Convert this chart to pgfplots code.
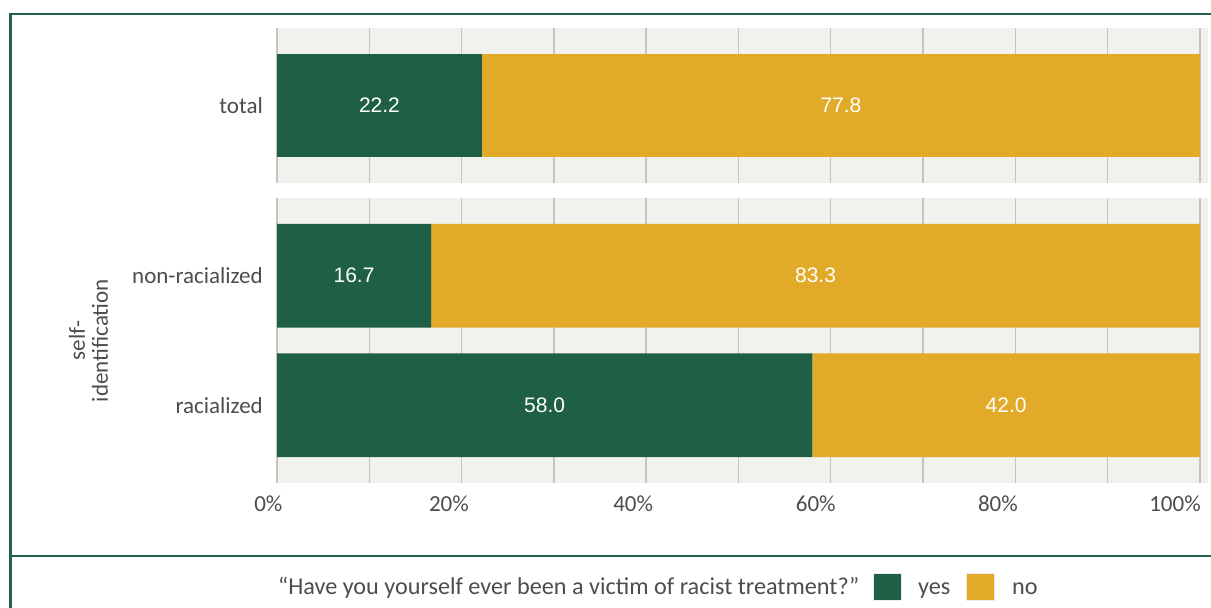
\documentclass[border=0pt]{standalone}
\usepackage{pgfplots}
\usepackage{pgfplotstable}
\pgfplotsset{compat=1.18}
\usepackage{fontspec}
\setmainfont{Carlito}
\newfontfamily\barfont{Liberation Sans}
\definecolor{cgreen}{HTML}{1F5F46}
\definecolor{cframe}{HTML}{23614A}
\definecolor{cyellow}{HTML}{E1AA29}
\definecolor{cpanel}{HTML}{F1F2EE}
\definecolor{cgrid}{HTML}{C4C4C4}
\definecolor{ctext}{HTML}{4D4D4D}

\pgfplotstableread{
pos yes no
0 22.2 77.8
}\tabtotal
\pgfplotstableread{
pos yes no
0 58.0 42.0
1 16.7 83.3
}\tabself

\pgfplotsset{
  panel/.style={
    scale only axis, width=931pt,
    xmin=0, xmax=100.87,
    axis line style={draw=none},
    major tick length=0pt,
    xtick={0,10,...,100},
    xmajorgrids, major grid style={draw=cgrid, line width=1.4pt},
    axis background/.style={fill=cpanel},
    ticklabel style={font=\fontsize{23}{27}\selectfont, text=ctext},
    yticklabel style={anchor=east, inner sep=0pt, xshift=-14pt, text height=16pt, text depth=0pt},
    xticklabel style={anchor=north, inner sep=0pt, yshift=-12.5pt},
    /pgf/number format/assume math mode=true,
  },
  barsax/.style={panel, xbar stacked, bar width=0.8},
  labax/.style={
    scale only axis, width=931pt, xmin=0, xmax=100.87, hide axis,
    point meta=explicit,
    nodes near coords={\barfont\fontsize{21}{25}\selectfont\pgfmathprintnumber[fixed,fixed zerofill,precision=1]{\pgfplotspointmeta}},
    every node near coord/.style={anchor=center, text=white},
    /pgf/number format/assume math mode=true,
  },
}

\begin{document}
\begin{tikzpicture}
\path[use as bounding box] (0pt,0pt) rectangle (1211pt,-608pt);
% frame
\draw[cframe, line width=2.2pt] (10.5pt,-608pt) -- (10.5pt,-14.3pt) -- (1211pt,-14.3pt);
\draw[cframe, line width=2pt] (10.5pt,-555.8pt) -- (1211pt,-555.8pt);

% panel total
\begin{axis}[barsax, at={(277pt,-28pt)}, anchor=north west, height=155pt,
  ymin=-0.6, ymax=0.6, ytick={0}, yticklabels={total}, xticklabels={}]
\addplot[fill=cgreen, draw=none] table[x=yes, y=pos] {\tabtotal};
\addplot[fill=cyellow, draw=none] table[x=no, y=pos] {\tabtotal};
\end{axis}
\begin{axis}[labax, at={(277pt,-28pt)}, anchor=north west, height=155pt, ymin=-0.6, ymax=0.6]
\addplot[draw=none, mark=none] table[x expr=\thisrow{yes}/2, y=pos, meta=yes] {\tabtotal};
\addplot[draw=none, mark=none] table[x expr=\thisrow{yes}+\thisrow{no}/2, y=pos, meta=no] {\tabtotal};
\end{axis}

% panel self-identification
\begin{axis}[barsax, at={(277pt,-198pt)}, anchor=north west, height=285pt,
  ymin=-0.6, ymax=1.6, ytick={0,1}, yticklabels={racialized,non-racialized},
  xticklabels={\hspace*{-17.4pt}0\%,,\hspace*{-25.4pt}20\%,,\hspace*{-26pt}40\%,,\hspace*{-30pt}60\%,,\hspace*{-35pt}80\%,,\hspace*{-50pt}100\%}]
\addplot[fill=cgreen, draw=none] table[x=yes, y=pos] {\tabself};
\addplot[fill=cyellow, draw=none] table[x=no, y=pos] {\tabself};
\end{axis}
\begin{axis}[labax, at={(277pt,-198pt)}, anchor=north west, height=285pt, ymin=-0.6, ymax=1.6]
\addplot[draw=none, mark=none] table[x expr=\thisrow{yes}/2, y=pos, meta=yes] {\tabself};
\addplot[draw=none, mark=none] table[x expr=\thisrow{yes}+\thisrow{no}/2, y=pos, meta=no] {\tabself};
\end{axis}

% y title
\node[rotate=90, align=center, text=ctext, font=\fontsize{23}{23}\selectfont] at (88.5pt,-340.5pt) {self-\\identification};

% legend
\node[anchor=base west, inner sep=0pt, text=ctext, font=\fontsize{24.2}{28}\selectfont] at (278pt,-594pt) {“Have you yourself ever been a victim of racist treatment?”};
\filldraw[fill=cgreen, draw=black!8, line width=1pt] (873.5pt,-573pt) rectangle (901pt,-600.5pt);
\node[anchor=base west, inner sep=0pt, text=ctext, font=\fontsize{24.2}{28}\selectfont] at (918pt,-594pt) {yes};
\filldraw[fill=cyellow, draw=black!8, line width=1pt] (966pt,-573pt) rectangle (994pt,-600.5pt);
\node[anchor=base west, inner sep=0pt, text=ctext, font=\fontsize{24.2}{28}\selectfont] at (1012pt,-594pt) {no};
\end{tikzpicture}
\end{document}
